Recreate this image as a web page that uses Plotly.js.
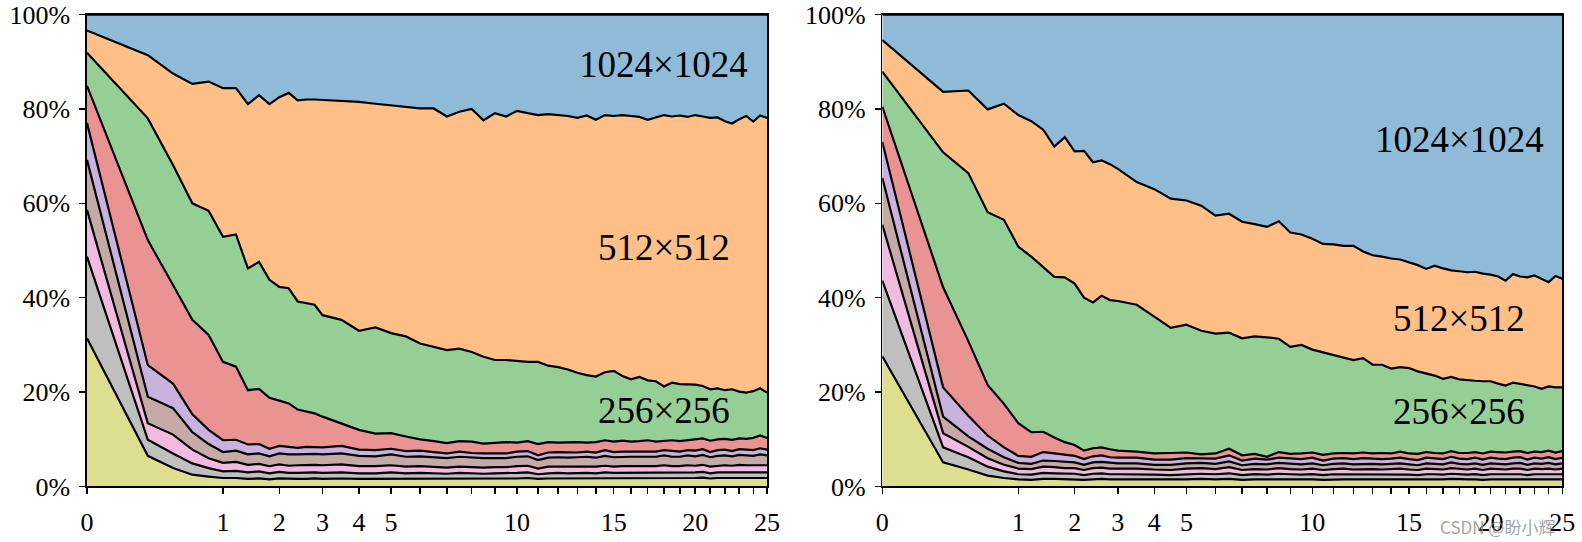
<!DOCTYPE html>
<html><head><meta charset="utf-8">
<script src="https://cdn.plot.ly/plotly-3.0.1.min.js"></script>
<style>html,body{margin:0;padding:0;background:#fff;}#chart{width:1582px;height:542px;}</style>
</head><body><div id="chart"></div>
<script>
// time steps (x axis is drawn on a square-root scale)
const steps = [0,0.2,0.4,0.6,0.8,1,1.2,1.4,1.6,1.8,2,2.2,2.4,2.6,2.8,3,3.5,4,4.5,5,5.5,6,6.5,7,7.5,8,8.5,9,9.5,10,10.5,11,11.5,12,12.5,13,13.5,14,14.5,15,15.5,16,16.5,17,17.5,18,18.5,19,19.5,20,20.5,21,21.5,22,22.5,23,23.5,24,24.5,25];

const seriesNames = ["4×4","8×8","16×16","32×32","64×64","128×128","256×256","512×512","1024×1024"];
const seriesColors = ["#ddde90","#bfbfbf","#f1bbe0","#c5aaa5","#c9b3de","#ea9393","#95cf95","#ffbf86","#8fbbd9"];

const tickLabelSteps = [0,1,2,3,4,5,10,15,20,25];
const yTickValues = [0,20,40,60,80,100];
const yTickLabels = ["0%","20%","40%","60%","80%","100%"];

// ----- left panel shares (%) -----
const leftOlive = [31.4,6.5,3.9,2.5,2.1,1.8,1.8,1.6,1.7,1.5,1.7,1.6,1.6,1.6,1.7,1.6,1.7,1.6,1.6,1.7,1.6,1.7,1.6,1.6,1.7,1.6,1.6,1.7,1.7,1.7,1.8,1.6,1.7,1.7,1.7,1.8,1.7,1.7,1.8,1.7,1.8,1.7,1.7,1.8,1.7,1.8,1.8,1.7,1.8,1.8,1.9,1.7,1.8,1.8,1.8,1.9,1.8,1.8,1.9,1.8];
const leftGray = [17.3,3.4,3.1,2.4,1.8,1.4,1.5,1.4,1.5,1.3,1.4,1.3,1.3,1.4,1.3,1.3,1.3,1.2,1.2,1.3,1.2,1.2,1.2,1.1,1.2,1.2,1.1,1.1,1.1,1.2,1.2,1.0,1.1,1.2,1.1,1.1,1.2,1.1,1.2,1.2,1.1,1.2,1.2,1.1,1.2,1.2,1.1,1.2,1.2,1.2,1.2,1.1,1.2,1.2,1.2,1.2,1.2,1.3,1.2,1.2];
const leftPink = [9.9,3.5,4.0,2.9,2.1,1.8,1.9,1.6,1.6,1.5,1.6,1.5,1.6,1.6,1.6,1.6,1.7,1.5,1.5,1.5,1.4,1.4,1.4,1.3,1.3,1.3,1.3,1.3,1.3,1.4,1.4,1.2,1.4,1.3,1.4,1.3,1.4,1.4,1.4,1.3,1.4,1.4,1.4,1.4,1.4,1.5,1.4,1.4,1.5,1.4,1.5,1.4,1.4,1.5,1.4,1.5,1.5,1.4,1.5,1.5];
const leftBrown = [10.6,5.6,5.6,3.7,3.0,2.3,2.4,2.2,2.2,2.1,2.3,2.4,2.3,2.3,2.3,2.3,2.3,2.2,2.1,2.3,2.1,2.1,2.0,2.0,2.1,2.0,2.0,1.9,1.9,2.0,2.0,1.8,1.9,2.0,1.9,2.0,2.0,1.9,2.1,2.0,2.0,2.0,2.0,2.0,2.0,2.1,2.0,2.0,2.1,2.0,2.1,2.0,2.1,2.1,2.0,2.1,2.1,2.0,2.2,2.1];
const leftPurple = [7.8,6.7,5.2,3.8,3.0,2.5,2.3,2.1,2.0,1.6,1.6,1.6,1.4,1.5,1.5,1.5,1.6,1.3,1.3,1.2,1.2,1.2,1.1,1.0,1.1,1.0,1.0,1.0,1.0,1.1,1.1,1.0,1.1,1.1,1.1,1.0,1.1,1.1,1.2,1.1,1.1,1.1,1.1,1.2,1.1,1.1,1.2,1.1,1.1,1.2,1.2,1.1,1.2,1.2,1.1,1.2,1.2,1.2,1.3,1.2];
const leftRed = [7.9,26.5,20.9,20.0,20.1,16.6,15.5,11.5,11.7,10.8,9.6,9.2,8.1,7.5,7.1,6.5,4.8,4.2,3.5,3.3,3.1,2.4,2.3,2.2,2.2,2.4,2.1,2.3,2.4,1.9,2.1,2.4,2.2,2.0,2.2,2.2,1.9,2.2,2.1,2.2,2.3,2.1,2.2,2.3,2.1,2.0,2.3,2.2,2.1,2.3,2.3,2.4,2.3,2.3,2.4,2.3,2.3,2.6,2.7,2.5];
const leftGreen = [7.0,25.8,25.4,24.7,26.3,26.5,28.0,25.8,26.9,25.0,24.1,24.4,22.9,22.9,23.0,21.5,21.9,21.0,22.5,21.2,21.2,20.3,20.0,19.7,19.6,19.0,18.4,17.5,17.4,17.3,16.8,17.4,16.2,16.0,15.4,14.7,14.3,13.9,14.4,15.0,13.7,13.2,13.6,12.7,12.8,11.5,12.2,12.1,11.8,11.7,11.1,10.9,10.8,10.3,10.7,9.9,9.8,9.9,10.0,9.6];
const leftOrange = [4.7,13.4,19.4,25.3,27.4,31.5,31.0,34.8,35.3,37.2,40.2,41.4,42.6,43.2,43.5,45.6,46.5,48.5,47.4,48.3,48.7,49.8,50.5,49.5,50.2,51.5,50.1,52.3,51.6,53.0,52.7,52.3,53.3,53.4,53.7,54.0,55.0,54.4,54.5,54.0,55.3,55.8,55.1,55.2,55.9,57.5,56.4,56.9,56.7,57.1,57.1,57.5,57.4,57.0,56.3,57.7,58.6,57.1,57.8,58.2];
const leftBlue = [3.4,8.6,12.5,14.7,14.2,15.6,15.6,19.0,17.1,19.0,17.5,16.6,18.2,18.0,18.0,18.1,18.2,18.5,18.9,19.2,19.5,19.9,19.9,21.6,20.6,20.0,22.4,20.9,21.6,20.4,20.9,21.3,21.1,21.3,21.5,21.9,21.4,22.3,21.3,21.5,21.3,21.5,21.7,22.3,21.8,21.3,21.6,21.4,21.7,21.3,21.6,21.9,21.8,22.6,23.1,22.2,21.5,22.7,21.4,21.9];

// ----- right panel shares (%) -----
const rightOlive = [27.6,5.1,3.6,2.3,1.8,1.5,1.4,1.6,1.6,1.5,1.5,1.4,1.5,1.6,1.5,1.5,1.5,1.5,1.4,1.5,1.6,1.5,1.6,1.4,1.5,1.5,1.6,1.5,1.5,1.5,1.4,1.5,1.5,1.5,1.5,1.4,1.5,1.5,1.5,1.5,1.4,1.5,1.5,1.5,1.6,1.5,1.5,1.5,1.4,1.5,1.5,1.5,1.5,1.5,1.4,1.5,1.5,1.5,1.5,1.5];
const rightGray = [16.0,3.2,2.6,1.9,1.4,1.1,1.1,1.3,1.2,1.2,1.2,1.0,1.2,1.2,1.1,1.1,1.1,1.0,1.0,1.1,1.1,1.1,1.2,1.0,1.1,1.0,1.1,1.1,1.0,1.1,1.0,1.1,1.1,1.0,1.1,1.1,1.0,1.1,1.1,1.0,1.0,1.1,1.1,1.0,1.1,1.1,1.0,1.1,1.0,1.1,1.1,1.0,1.1,1.1,1.0,1.1,1.1,1.1,1.0,1.1];
const rightPink = [11.9,3.0,2.2,1.8,1.4,1.2,1.2,1.3,1.3,1.2,1.2,1.1,1.2,1.2,1.2,1.2,1.2,1.1,1.1,1.2,1.2,1.1,1.3,1.1,1.1,1.1,1.2,1.1,1.1,1.2,1.1,1.1,1.2,1.1,1.1,1.2,1.1,1.1,1.2,1.1,1.1,1.2,1.1,1.1,1.2,1.1,1.1,1.2,1.1,1.2,1.1,1.1,1.2,1.2,1.1,1.2,1.1,1.2,1.1,1.2];
const rightBrown = [9.9,3.5,2.2,2.0,1.6,1.2,1.1,1.3,1.3,1.3,1.2,1.1,1.2,1.2,1.2,1.1,1.1,1.0,1.1,1.1,1.1,1.1,1.2,1.0,1.1,1.1,1.1,1.1,1.1,1.1,1.0,1.1,1.1,1.1,1.1,1.1,1.1,1.1,1.1,1.1,1.0,1.1,1.1,1.1,1.2,1.1,1.1,1.1,1.1,1.1,1.1,1.1,1.1,1.2,1.1,1.1,1.1,1.2,1.1,1.1];
const rightPurple = [7.6,6.2,4.4,2.8,2.1,1.5,1.5,1.8,1.6,1.6,1.4,1.2,1.3,1.4,1.2,1.2,1.2,1.1,1.1,1.1,1.0,1.1,1.3,1.0,1.1,1.0,1.1,1.1,1.1,1.2,1.0,1.1,1.1,1.1,1.2,1.1,1.1,1.1,1.2,1.1,1.1,1.2,1.1,1.1,1.2,1.1,1.1,1.2,1.1,1.2,1.1,1.1,1.2,1.2,1.1,1.2,1.1,1.2,1.1,1.2];
const rightRed = [7.5,21.2,15.8,10.7,9.2,6.9,5.2,4.3,3.4,2.6,2.3,1.8,1.7,1.7,1.7,1.5,1.3,1.3,1.4,1.2,0.8,1.1,1.4,1.1,1.0,0.6,1.2,1.0,1.2,1.1,1.2,1.1,1.1,1.2,1.2,1.1,1.3,1.1,1.3,1.2,1.3,1.2,1.2,1.2,1.2,1.2,1.3,1.2,1.3,1.3,1.4,1.4,1.3,1.3,1.4,1.3,1.4,1.4,1.4,1.4];
const rightGreen = [7.4,28.6,35.6,36.6,39.0,37.4,37.2,34.9,34.0,34.9,34.2,32.4,30.9,32.1,31.6,31.7,31.1,29.0,26.5,27.1,26.2,25.4,24.6,24.8,24.9,25.3,24.0,22.7,23.0,21.8,21.7,20.8,20.2,19.8,20.0,18.8,18.7,18.0,17.9,18.1,17.5,16.6,16.4,15.8,15.7,15.6,15.4,15.1,15.3,14.9,14.5,14.2,14.6,14.2,14.3,13.8,13.4,13.6,13.8,13.5];
const rightOrange = [6.7,12.8,17.5,21.8,24.6,27.9,28.7,29.1,27.6,29.7,28.0,31.1,29.7,28.7,28.8,28.0,26.0,27.0,27.4,26.3,26.5,25.0,25.2,24.7,23.8,23.4,24.9,24.2,23.4,23.5,23.0,23.5,23.7,24.2,22.6,23.2,22.9,23.3,22.8,22.4,22.5,22.2,23.3,23.4,22.6,22.9,22.9,23.1,22.8,22.6,22.7,22.2,23.0,22.8,22.9,23.5,23.3,22.1,23.6,23.0];
const rightBlue = [5.4,16.4,16.1,20.1,18.9,21.3,22.6,24.4,28.0,26.0,29.0,28.9,31.3,30.9,31.7,32.7,35.5,37.0,39.0,39.4,40.5,42.6,42.2,43.9,44.4,45.0,43.8,46.2,46.6,47.5,48.6,48.7,49.0,49.0,50.2,51.0,51.3,51.7,51.9,52.5,53.1,53.9,53.2,53.8,54.2,54.4,54.6,54.5,54.9,55.1,55.5,56.4,55.0,55.5,55.7,55.3,56.0,56.7,55.4,56.0];

const leftSeries = [leftOlive,leftGray,leftPink,leftBrown,leftPurple,leftRed,leftGreen,leftOrange,leftBlue];
const rightSeries = [rightOlive,rightGray,rightPink,rightBrown,rightPurple,rightRed,rightGreen,rightOrange,rightBlue];

const sx = steps.map(Math.sqrt);
const traces = [];
function addPanel(series, xa, ya, group){
  series.forEach((vals, i) => {
    traces.push({
      type:'scatter', mode:'lines', x:sx, y:vals, xaxis:xa, yaxis:ya,
      stackgroup:group, groupnorm:'percent', name:seriesNames[i],
      fillcolor:seriesColors[i], line:{color:'#000', width:2.2, shape:'linear'},
      hoverinfo:'skip', showlegend:false
    });
  });
}
addPanel(leftSeries,'x','y','L');
addPanel(rightSeries,'x2','y2','R');

// x ticks at every integer step, labels only at selected ones
const xTickVals = [], xTickText = [];
for (let k = 0; k <= 25; k++) {
  xTickVals.push(Math.sqrt(k));
  xTickText.push(tickLabelSteps.includes(k) ? String(k) : '');
}

const SERIF = 'Liberation Serif';
const tickFont = {family:SERIF, size:26, color:'#000'};
function xAxis(dom){
  return {domain:dom, range:[0,5], tickmode:'array', tickvals:xTickVals, ticktext:xTickText,
    ticks:'outside', ticklen:6, tickwidth:1.5, tickcolor:'#000', ticklabelstandoff:6, showgrid:false, zeroline:false,
    showline:true, linecolor:'#000', linewidth:1.5, mirror:true, tickfont:tickFont, fixedrange:true};
}
function yAxis(anchor){
  return {domain:[0.1024,0.9732], anchor:anchor, range:[0,100], tickmode:'array', tickvals:yTickValues, ticktext:yTickLabels,
    ticks:'outside', ticklen:6, tickwidth:1.5, tickcolor:'#000', ticklabelstandoff:4, showgrid:false, zeroline:false,
    showline:true, linecolor:'#000', linewidth:1.5, mirror:true, tickfont:tickFont, fixedrange:true};
}

const annFont = {family:SERIF, size:37, color:'#000'};
function lab(text, xref, yref, x, y){
  return {text:text, xref:xref, yref:yref, x:x, y:y, xanchor:'right', yanchor:'middle', showarrow:false, font:annFont};
}

const layout = {
  width:1582, height:542, margin:{l:0,r:0,t:0,b:0},
  paper_bgcolor:'#fff', plot_bgcolor:'#fff', showlegend:false, hovermode:false,
  xaxis: Object.assign(xAxis([0.05499,0.48483]), {anchor:'y'}),
  yaxis: yAxis('x'),
  xaxis2: Object.assign(xAxis([0.55771,0.98755]), {anchor:'y2'}),
  yaxis2: yAxis('x2'),
  annotations:[
    lab('1024×1024','x','y',4.875,89.5),
    lab('512×512','x','y',4.743,50.7),
    lab('256×256','x','y',4.743,16.2),
    lab('1024×1024','x2','y2',4.88,73.5),
    lab('512×512','x2','y2',4.74,35.6),
    lab('256×256','x2','y2',4.74,15.9),
    {text:'CSDN @盼小辉', xref:'paper', yref:'paper', x:0.9842, y:0.028, xanchor:'right', yanchor:'middle',
     showarrow:false, font:{family:'Noto Sans CJK SC', size:17, color:'rgba(140,140,140,0.8)'}}
  ]
};

Plotly.newPlot('chart', traces, layout, {staticPlot:true, displayModeBar:false});
</script>
</body></html>
